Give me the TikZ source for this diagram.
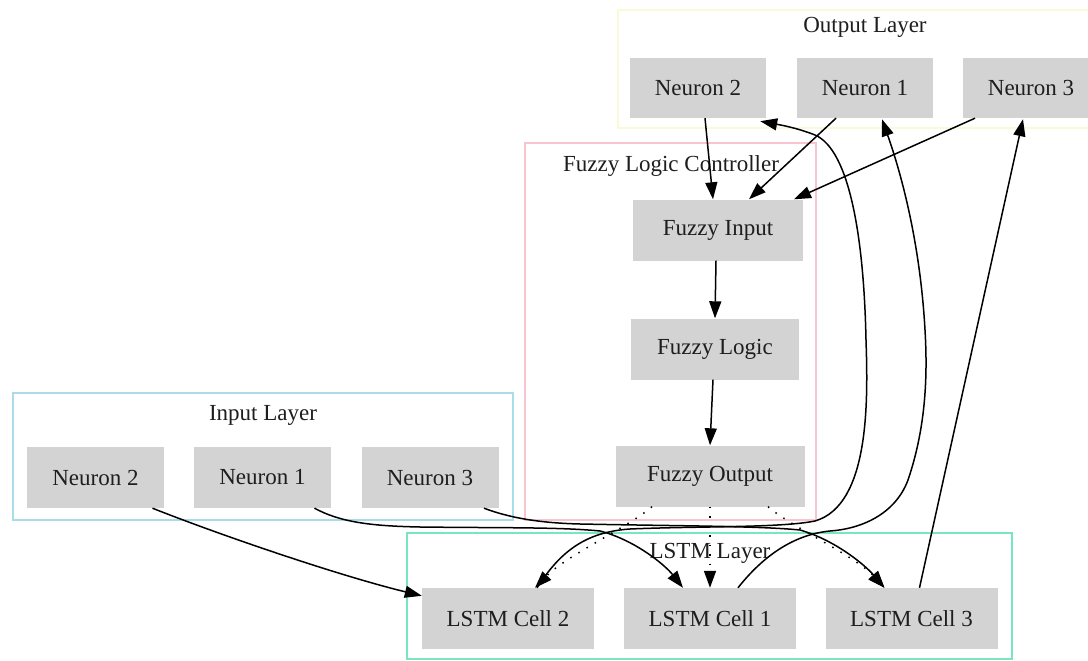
\documentclass[tikz,border=0pt]{standalone}
\usepackage{fontspec}
\setmainfont{Liberation Serif}
\usetikzlibrary{arrows.meta}
\definecolor{nodegray}{HTML}{D3D3D3}
\definecolor{txt}{HTML}{1E1E1E}
\definecolor{inblue}{HTML}{A8DCE8}
\definecolor{fzpink}{HTML}{F8C4D0}
\definecolor{lstmgreen}{HTML}{78E6BE}
\definecolor{outyellow}{HTML}{FAFAD8}
\begin{document}
\begin{tikzpicture}[x=1pt,y=-1pt,
  box/.style={fill=nodegray, draw=none, minimum height=61pt, inner sep=0pt,
    text=txt, font=\fontsize{23}{27}\selectfont},
  lbl/.style={inner sep=0pt, text=txt, font=\fontsize{23}{27}\selectfont},
  cluster/.style={line width=1.3pt},
  edge/.style={draw=black, line width=1.5pt, -{Triangle[length=17pt,width=12pt]}},
  dotedge/.style={edge, dash pattern=on 1.5pt off 8pt},
]
\useasboundingbox (0,0) rectangle (1088,661);
\fill[white] (0,0) rectangle (1088,661);

% clusters
\draw[cluster, draw=outyellow] (618,10) rectangle (1112,128);
\draw[cluster, draw=fzpink] (525,143) rectangle (816,520);
\draw[cluster, draw=inblue] (13,393) rectangle (513,520);
\draw[cluster, draw=lstmgreen] (407,533) rectangle (1012,659);

\node[lbl] (outlbl) at (865,27) {Output Layer};
\node[lbl] (fzlbl) at (671,166) {Fuzzy Logic Controller};
\node[lbl] (inlbl) at (263,415) {Input Layer};
\node[lbl] (lstmlbl) at (710,553) {LSTM Layer};

% nodes
\node[box, minimum width=136pt, minimum height=60pt] (On2) at (698,88) {Neuron 2};
\node[box, minimum width=136pt, minimum height=60pt] (On1) at (865,88) {Neuron 1};
\node[box, minimum width=136pt, minimum height=60pt] (On3) at (1031,88) {Neuron 3};

\node[box, minimum width=170pt] (FI) at (718,230) {Fuzzy Input};
\node[box, minimum width=168pt] (FL) at (715,349) {Fuzzy Logic};
\node[box, minimum width=189pt] (FO) at (710,476) {Fuzzy Output};

\node[box, minimum width=137pt] (In2) at (95.5,477.5) {Neuron 2};
\node[box, minimum width=137pt] (In1) at (262.5,477.5) {Neuron 1};
\node[box, minimum width=137pt] (In3) at (430,477.5) {Neuron 3};

\node[box, minimum width=172pt] (L2) at (508,618.5) {LSTM Cell 2};
\node[box, minimum width=172pt] (L1) at (710,618.5) {LSTM Cell 1};
\node[box, minimum width=172pt] (L3) at (911.5,618.5) {LSTM Cell 3};

% output layer -> fuzzy input
\draw[edge] ([xshift=7pt]On2.south) -- ([xshift=-5pt]FI.north);
\draw[edge] ([xshift=-29pt]On1.south) -- ([xshift=31pt]FI.north);
\draw[edge] ([xshift=-56pt]On3.south) -- ([xshift=76pt]FI.north);

% fuzzy chain
\draw[edge] ([xshift=-2pt]FI.south) -- (FL.north);
\draw[edge] ([xshift=-2pt]FL.south) -- (FO.north);

% fuzzy output -> lstm (dotted)
\draw[dotedge] ([xshift=-58pt]FO.south) .. controls (630,526) and (566,556) .. ([xshift=27pt]L2.north);
\draw[dotedge] (FO.south) -- (L1.north);
\draw[dotedge] ([xshift=58pt]FO.south) .. controls (790,526) and (855,556) .. ([xshift=-27pt]L3.north);

% input layer -> lstm
\draw[edge] ([xshift=57pt]In2.south) .. controls (220,535) and (340,576) .. ([yshift=-8pt]L2.north west);
\draw[edge] ([xshift=52pt]In1.south) .. controls (340,522) and (370,526) .. (420,527)
  .. controls (500,528) and (560,527) .. (600,531)
  .. controls (635,540) and (665,565) .. ([xshift=-27pt]L1.north);
\draw[edge] ([xshift=54pt]In3.south) .. controls (510,518) and (540,523) .. (580,524)
  .. controls (680,526) and (760,526) .. (800,530)
  .. controls (835,540) and (865,565) .. ([xshift=-27pt]L3.north);

% lstm -> output layer
\draw[edge] ([xshift=29pt]L2.north) .. controls (560,552) and (585,532) .. (630,529)
  .. controls (700,526) and (780,528) .. (815,521)
  .. controls (870,505) and (868,400) .. (866,340)
  .. controls (864,240) and (850,150) .. (815,135)
  .. controls (795,127) and (775,124) .. ([xshift=-6pt,yshift=-3pt]On2.south east);
\draw[edge] ([xshift=28pt]L1.north) .. controls (760,560) and (790,535) .. (830,531)
  .. controls (860,529) and (895,515) .. (908,480)
  .. controls (925,430) and (928,380) .. (925,330)
  .. controls (920,240) and (900,170) .. ([xshift=17pt,yshift=-1pt]On1.south);
\draw[edge] ([xshift=8pt]L3.north) -- ([xshift=-8pt,yshift=-1pt]On3.south);
\end{tikzpicture}
\end{document}
